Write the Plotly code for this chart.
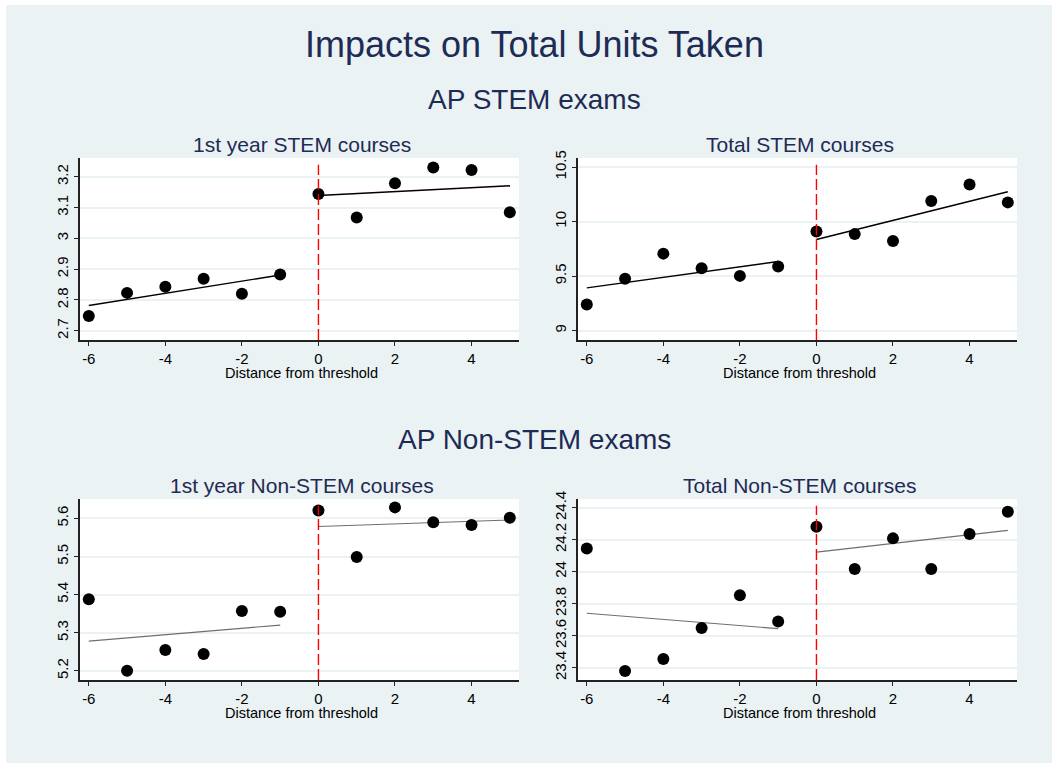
import plotly.graph_objects as go

# ---------------- data ----------------
x_bins = [-6, -5, -4, -3, -2, -1, 0, 1, 2, 3, 4, 5]
threshold = 0

stem_first = [2.748, 2.823, 2.843, 2.869, 2.820, 2.883, 3.144, 3.068, 3.179, 3.230, 3.222, 3.085]
stem_total = [9.239, 9.475, 9.706, 9.572, 9.502, 9.588, 9.909, 9.885, 9.821, 10.188, 10.341, 10.176]
nonstem_first = [5.388, 5.200, 5.255, 5.244, 5.357, 5.355, 5.621, 5.499, 5.629, 5.590, 5.583, 5.602]
nonstem_total = [24.145, 23.379, 23.454, 23.648, 23.853, 23.688, 24.281, 24.016, 24.208, 24.016, 24.235, 24.375]

fit_x_left = [-6, -1]
fit_x_right = [0, 5]
stem_first_fit_left = [2.782, 2.881]
stem_first_fit_right = [3.139, 3.171]
stem_total_fit_left = [9.392, 9.634]
stem_total_fit_right = [9.836, 10.273]
nonstem_first_fit_left = [5.278, 5.320]
nonstem_first_fit_right = [5.579, 5.596]
nonstem_total_fit_left = [23.740, 23.644]
nonstem_total_fit_right = [24.122, 24.258]

x_ticks = [-6, -4, -2, 0, 2, 4]
x_tick_labels = ["-6", "-4", "-2", "0", "2", "4"]
stem_first_ticks = [2.7, 2.8, 2.9, 3.0, 3.1, 3.2]
stem_first_labels = ["2.7", "2.8", "2.9", "3", "3.1", "3.2"]
stem_total_ticks = [9.0, 9.5, 10.0, 10.5]
stem_total_labels = ["9", "9.5", "10", "10.5"]
nonstem_first_ticks = [5.2, 5.3, 5.4, 5.5, 5.6]
nonstem_first_labels = ["5.2", "5.3", "5.4", "5.5", "5.6"]
nonstem_total_ticks = [23.4, 23.6, 23.8, 24.0, 24.2, 24.4]
nonstem_total_labels = ["23.4", "23.6", "23.8", "24", "24.2", "24.4"]

main_title = "Impacts on Total Units Taken"
section_titles = ["AP STEM exams", "AP Non-STEM exams"]
panel_titles = ["1st year STEM courses", "Total STEM courses",
                "1st year Non-STEM courses", "Total Non-STEM courses"]
x_title = "Distance from threshold"

# ---------------- styling / layout ----------------
W, H = 1052, 763
BG = "#EAF2F3"
NAVY = "#1E2B55"
FONT = "Liberation Sans, Arial, sans-serif"

def px_x(p):
    return p / W

def px_y(p):
    return 1 - p / H

panels = [
    dict(y=stem_first, fl=stem_first_fit_left, fr=stem_first_fit_right,
         ticks=stem_first_ticks, labels=stem_first_labels, yr=[2.67, 3.261],
         fitcol="#000000", fitw=1.4, box=(80, 519, 158, 340)),
    dict(y=stem_total, fl=stem_total_fit_left, fr=stem_total_fit_right,
         ticks=stem_total_ticks, labels=stem_total_labels, yr=[8.914, 10.583],
         fitcol="#000000", fitw=1.4, box=(578, 1017, 158, 340)),
    dict(y=nonstem_first, fl=nonstem_first_fit_left, fr=nonstem_first_fit_right,
         ticks=nonstem_first_ticks, labels=nonstem_first_labels, yr=[5.176, 5.651],
         fitcol="#6E6E6E", fitw=1.1, box=(80, 519, 499, 680)),
    dict(y=nonstem_total, fl=nonstem_total_fit_left, fr=nonstem_total_fit_right,
         ticks=nonstem_total_ticks, labels=nonstem_total_labels, yr=[23.323, 24.454],
         fitcol="#6E6E6E", fitw=1.1, box=(578, 1017, 499, 680)),
]

fig = go.Figure()
layout = dict(
    width=W, height=H,
    margin=dict(l=0, r=0, t=0, b=0, pad=0, autoexpand=False),
    paper_bgcolor=BG, plot_bgcolor="white",
    showlegend=False,
    font=dict(family=FONT, color="black"),
)
annotations = []
shapes = [
    dict(type="rect", xref="paper", yref="paper", x0=0, x1=1, y0=px_y(5), y1=1,
         fillcolor="white", line=dict(width=0)),
    dict(type="rect", xref="paper", yref="paper", x0=0, x1=px_x(6), y0=0, y1=1,
         fillcolor="white", line=dict(width=0)),
]

for i, p in enumerate(panels):
    n = i + 1
    xa = "x" if n == 1 else f"x{n}"
    ya = "y" if n == 1 else f"y{n}"
    l, r, t, b = p["box"]
    fig.add_trace(go.Scatter(x=fit_x_left, y=p["fl"], mode="lines", xaxis=xa, yaxis=ya,
                             line=dict(color=p["fitcol"], width=p["fitw"])))
    fig.add_trace(go.Scatter(x=fit_x_right, y=p["fr"], mode="lines", xaxis=xa, yaxis=ya,
                             line=dict(color=p["fitcol"], width=p["fitw"])))
    fig.add_trace(go.Scatter(x=x_bins, y=p["y"], mode="markers", xaxis=xa, yaxis=ya,
                             marker=dict(color="black", size=12)))
    xkey = "xaxis" if n == 1 else f"xaxis{n}"
    ykey = "yaxis" if n == 1 else f"yaxis{n}"
    layout[xkey] = dict(
        domain=[px_x(l), px_x(r)], anchor=ya, range=[-6.23, 5.24], automargin=False,
        tickmode="array", tickvals=x_ticks, ticktext=x_tick_labels, ticks="outside", ticklen=4,
        tickcolor="#222", tickwidth=1.2, showline=True, linecolor="#222", linewidth=1.5,
        showgrid=False, zeroline=False, tickfont=dict(size=15, color="black"),
    )
    layout[ykey] = dict(
        domain=[px_y(b), px_y(t)], anchor=xa, range=p["yr"], automargin=False,
        tickmode="array", tickvals=p["ticks"], ticktext=p["labels"], tickangle=-90,
        ticks="outside", ticklen=4, tickcolor="#222", tickwidth=1.2,
        showline=True, linecolor="#222", linewidth=1.5,
        showgrid=True, gridcolor=BG, gridwidth=1.5, zeroline=False,
        tickfont=dict(size=15, color="black"),
    )
    shapes.append(dict(type="line", xref=xa, yref=f"{ya} domain", x0=threshold, x1=threshold,
                       y0=0, y1=0.963, line=dict(color="#FF0000", width=1.4, dash="11px,4px")))
    cx = (l + r) / 2
    annotations.append(dict(text=panel_titles[i], x=px_x(cx + 2), y=px_y(t - 14),
                            xref="paper", yref="paper", showarrow=False,
                            xanchor="center", yanchor="middle",
                            font=dict(size=21, color=NAVY, family=FONT)))
    annotations.append(dict(text=x_title, x=px_x(cx + 2), y=px_y(b + 33),
                            xref="paper", yref="paper", showarrow=False,
                            xanchor="center", yanchor="middle",
                            font=dict(size=14.5, color="black", family=FONT)))

annotations.append(dict(text=main_title, x=px_x(534), y=px_y(45), xref="paper", yref="paper",
                        showarrow=False, xanchor="center", yanchor="middle",
                        font=dict(size=36, color=NAVY, family=FONT)))
annotations.append(dict(text=section_titles[0], x=px_x(534), y=px_y(100), xref="paper", yref="paper",
                        showarrow=False, xanchor="center", yanchor="middle",
                        font=dict(size=28, color=NAVY, family=FONT)))
annotations.append(dict(text=section_titles[1], x=px_x(534), y=px_y(440), xref="paper", yref="paper",
                        showarrow=False, xanchor="center", yanchor="middle",
                        font=dict(size=28, color=NAVY, family=FONT)))

layout["annotations"] = annotations
layout["shapes"] = shapes
fig.update_layout(**layout)

fig.write_html("out.html", config={"displayModeBar": False},
               post_script="document.body.style.margin='0';document.body.style.overflow='hidden';")
